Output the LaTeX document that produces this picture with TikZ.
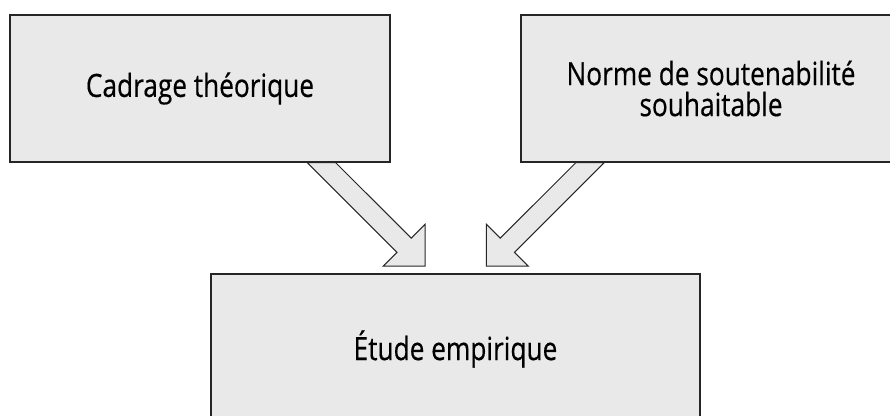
\documentclass[tikz,border=0pt]{standalone}
\usepackage{fontspec}
\setmainfont{Open Sans}[FakeStretch=0.82, FakeBold=0.4]
\usepackage{tikz}
\usetikzlibrary{positioning}

\definecolor{boxgray}{HTML}{E9E9E9}

\tikzset{
  boxnode/.style={draw=black!85, line width=1.4pt, fill=boxgray, inner sep=0pt,
    minimum width=380pt, minimum height=147pt, align=center,
    font=\fontsize{32}{31}\selectfont},
  fatarrow/.style={draw=black!85, line width=1pt, fill=boxgray, line join=miter}
}

\begin{document}
\begin{tikzpicture}[x=1pt, y=-1pt]

\useasboundingbox (0,0) rectangle (890,415);

% boxes
\node[boxnode] (cadrage) at (200,88.5) {Cadrage th\'eorique};
\node[boxnode] (norme) at (711,88.5) {Norme de soutenabilit\'e\\souhaitable};
\node[boxnode, minimum width=489pt, minimum height=150pt] (etude) at (455.5,349) {\'Etude empirique};

% block arrows
\coordinate (gauche) at ([xshift=121.5pt]cadrage.south);
\coordinate (droite) at ([xshift=-121pt]norme.south);

\draw[fatarrow] (gauche) ++(-14.1,0) --++(89.6,89.6) --++(-13.8,13.8) --++(41.9,0)
  --++(0,-41.8) --++(-13.9,13.8) --++(-75.5,-75.4) -- cycle;
\draw[fatarrow] (droite) ++(14.1,0) --++(-89.6,89.6) --++(13.8,13.8) --++(-41.9,0)
  --++(0,-41.8) --++(13.9,13.8) --++(75.5,-75.4) -- cycle;

\end{tikzpicture}
\end{document}
